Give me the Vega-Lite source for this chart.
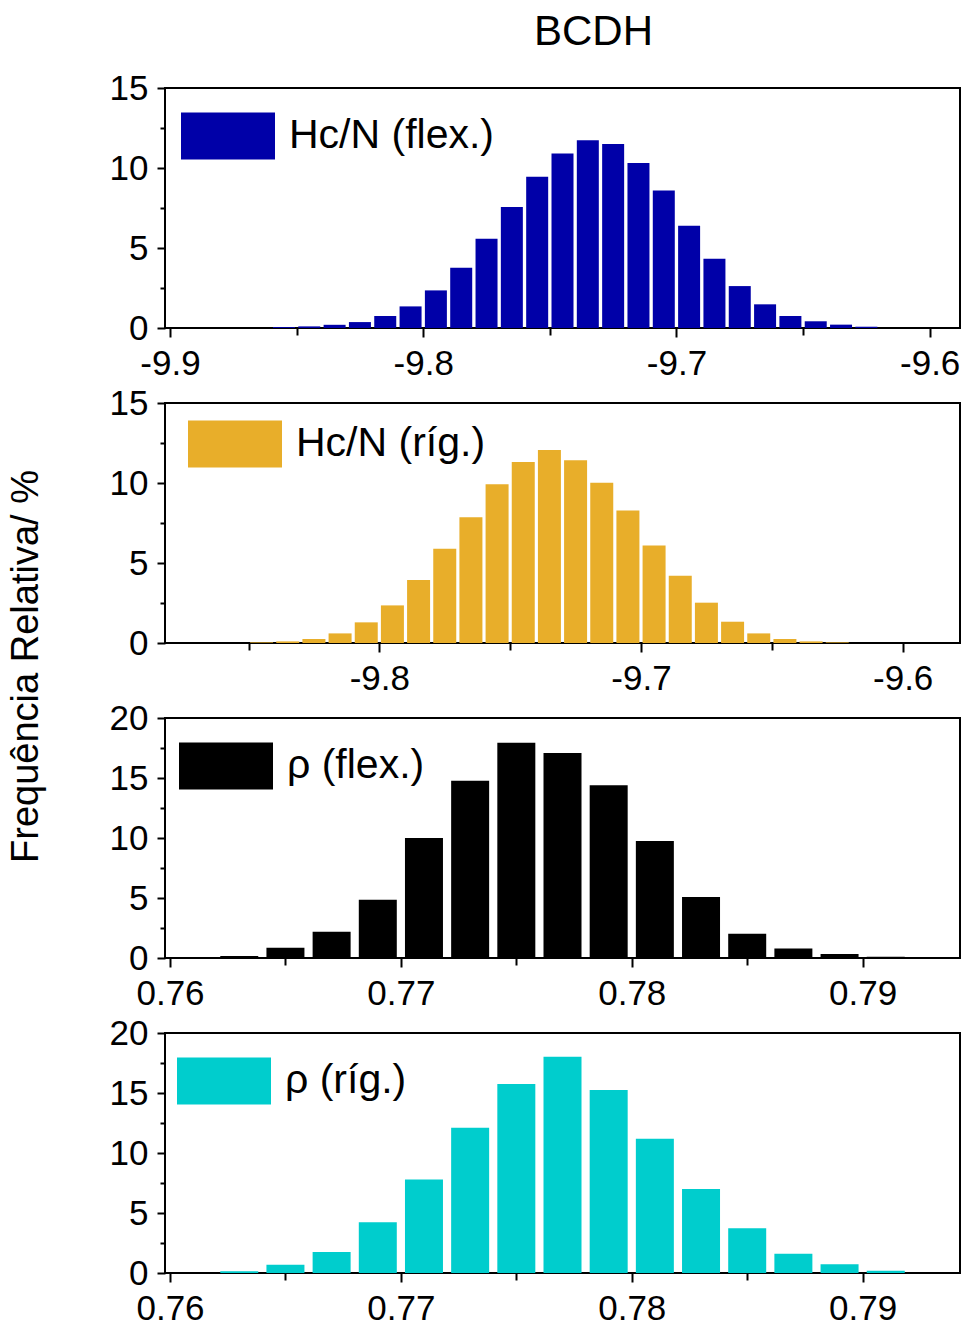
{
  "$schema": "https://vega.github.io/schema/vega-lite/v6.json",
  "padding": {"left": 5, "top": 11, "right": 0, "bottom": 0},
  "autosize": {"type": "pad"},
  "title": {"text": "BCDH", "fontSize": 42, "font": "Liberation Sans", "fontWeight": "normal", "color": "black", "anchor": "start", "frame": "group", "dx": 369, "offset": 16},
  "spacing": 75,
  "bounds": "flush",
  "resolve": {"scale": {"color": "independent", "x": "independent", "y": "independent"}},
  "config": {
    "font": "Liberation Sans",
    "view": {"stroke": "black", "strokeWidth": 2},
    "axis": {"labelFont": "Liberation Sans", "labelFontSize": 35, "labelColor": "black", "tickColor": "black", "tickWidth": 2, "domain": false, "grid": false, "labelPadding": 9, "labelOverlap": false, "labelFlush": false},
    "legend": {"labelFont": "Liberation Sans", "labelFontSize": 41, "labelColor": "black", "padding": 0, "labelLimit": 500, "symbolType": "M-1,-0.5H1V0.5H-1Z", "symbolSize": 8836, "symbolStrokeWidth": 0, "symbolOpacity": 1, "labelOffset": 14, "orient": "none"}
  },
  "vconcat": [
    {
      "width": 795, "height": 240,
      "data": {"values": [
        {"x": -9.855, "f": 0.06}, {"x": -9.845, "f": 0.1}, {"x": -9.835, "f": 0.2}, {"x": -9.825, "f": 0.37},
        {"x": -9.815, "f": 0.75}, {"x": -9.805, "f": 1.35}, {"x": -9.795, "f": 2.35}, {"x": -9.785, "f": 3.77},
        {"x": -9.775, "f": 5.58}, {"x": -9.765, "f": 7.57}, {"x": -9.755, "f": 9.45}, {"x": -9.745, "f": 10.9},
        {"x": -9.735, "f": 11.73}, {"x": -9.725, "f": 11.5}, {"x": -9.715, "f": 10.32}, {"x": -9.705, "f": 8.59},
        {"x": -9.695, "f": 6.39}, {"x": -9.685, "f": 4.33}, {"x": -9.675, "f": 2.62}, {"x": -9.665, "f": 1.48},
        {"x": -9.655, "f": 0.75}, {"x": -9.645, "f": 0.42}, {"x": -9.635, "f": 0.21}, {"x": -9.625, "f": 0.08}
      ]},
      "mark": {"type": "bar", "width": 22},
      "encoding": {
        "x": {"field": "x", "type": "quantitative", "scale": {"domain": [-9.9, -9.59], "nice": false, "zero": false},
          "axis": {"title": null, "values": [-9.9, -9.85, -9.8, -9.75, -9.7, -9.65, -9.6],
            "labelExpr": "abs(datum.value*10 - round(datum.value*10)) < 1e-6 ? replace(format(datum.value, '.1f'), '\u2212', '-') : ''",
            "tickSize": {"condition": {"test": "abs(datum.value*10 - round(datum.value*10)) < 1e-6", "value": 9}, "value": 7}}},
        "y": {"field": "f", "type": "quantitative", "scale": {"domain": [0, 15], "nice": false},
          "axis": {"title": null, "values": [0, 2.5, 5, 7.5, 10, 12.5, 15],
            "labelExpr": "datum.value % 5 == 0 ? format(datum.value, 'd') : ''",
            "tickSize": {"condition": {"test": "datum.value % 5 == 0", "value": 8}, "value": 5}}},
        "color": {"datum": "Hc/N (flex.)", "type": "nominal", "scale": {"domain": ["Hc/N (flex.)"], "range": ["#0000A8"]},
          "legend": {"title": null, "orient": "none", "legendX": 16, "legendY": 1}}
      }
    },
    {
      "width": 795, "height": 240,
      "data": {"values": [
        {"x": -9.845, "f": 0.04}, {"x": -9.835, "f": 0.1}, {"x": -9.825, "f": 0.25}, {"x": -9.815, "f": 0.6},
        {"x": -9.805, "f": 1.29}, {"x": -9.795, "f": 2.35}, {"x": -9.785, "f": 3.93}, {"x": -9.775, "f": 5.89},
        {"x": -9.765, "f": 7.86}, {"x": -9.755, "f": 9.92}, {"x": -9.745, "f": 11.32}, {"x": -9.735, "f": 12.07},
        {"x": -9.725, "f": 11.42}, {"x": -9.715, "f": 10.01}, {"x": -9.705, "f": 8.28}, {"x": -9.695, "f": 6.1},
        {"x": -9.685, "f": 4.2}, {"x": -9.675, "f": 2.52}, {"x": -9.665, "f": 1.33}, {"x": -9.655, "f": 0.6},
        {"x": -9.645, "f": 0.25}, {"x": -9.635, "f": 0.1}, {"x": -9.625, "f": 0.04}
      ]},
      "mark": {"type": "bar", "width": 23},
      "encoding": {
        "x": {"field": "x", "type": "quantitative", "scale": {"domain": [-9.88, -9.58], "nice": false, "zero": false},
          "axis": {"title": null, "values": [-9.85, -9.8, -9.75, -9.7, -9.65, -9.6],
            "labelExpr": "abs(datum.value*10 - round(datum.value*10)) < 1e-6 ? replace(format(datum.value, '.1f'), '\u2212', '-') : ''",
            "tickSize": {"condition": {"test": "abs(datum.value*10 - round(datum.value*10)) < 1e-6", "value": 9}, "value": 7}}},
        "y": {"field": "f", "type": "quantitative", "scale": {"domain": [0, 15], "nice": false},
          "axis": {"title": "Frequência Relativa/ %", "titleFont": "Liberation Sans", "titleFontSize": 38, "titleFontWeight": "normal", "titleColor": "black",
            "titleAngle": -90, "titleX": -139, "titleY": 263, "titleAlign": "center", "titleBaseline": "middle",
            "values": [0, 2.5, 5, 7.5, 10, 12.5, 15],
            "labelExpr": "datum.value % 5 == 0 ? format(datum.value, 'd') : ''",
            "tickSize": {"condition": {"test": "datum.value % 5 == 0", "value": 8}, "value": 5}}},
        "color": {"datum": "Hc/N (ríg.)", "type": "nominal", "scale": {"domain": ["Hc/N (ríg.)"], "range": ["#E8AE2A"]},
          "legend": {"title": null, "orient": "none", "legendX": 23, "legendY": -6}}
      }
    },
    {
      "width": 795, "height": 240,
      "data": {"values": [
        {"x": 0.761, "f": 0.04}, {"x": 0.763, "f": 0.17}, {"x": 0.765, "f": 0.86}, {"x": 0.767, "f": 2.19},
        {"x": 0.769, "f": 4.86}, {"x": 0.771, "f": 10.0}, {"x": 0.773, "f": 14.78}, {"x": 0.775, "f": 17.94},
        {"x": 0.777, "f": 17.08}, {"x": 0.779, "f": 14.39}, {"x": 0.781, "f": 9.75}, {"x": 0.783, "f": 5.08},
        {"x": 0.785, "f": 2.03}, {"x": 0.787, "f": 0.8}, {"x": 0.789, "f": 0.33}, {"x": 0.791, "f": 0.11}
      ]},
      "mark": {"type": "bar", "width": 38},
      "encoding": {
        "x": {"field": "x", "type": "quantitative", "scale": {"domain": [0.76, 0.794], "nice": false, "zero": false},
          "axis": {"title": null, "values": [0.76, 0.765, 0.77, 0.775, 0.78, 0.785, 0.79],
            "labelExpr": "abs(datum.value*100 - round(datum.value*100)) < 1e-6 ? format(datum.value, '.2f') : ''",
            "tickSize": {"condition": {"test": "abs(datum.value*100 - round(datum.value*100)) < 1e-6", "value": 9}, "value": 7}}},
        "y": {"field": "f", "type": "quantitative", "scale": {"domain": [0, 20], "nice": false},
          "axis": {"title": null, "values": [0, 2.5, 5, 7.5, 10, 12.5, 15, 17.5, 20],
            "labelExpr": "datum.value % 5 == 0 ? format(datum.value, 'd') : ''",
            "tickSize": {"condition": {"test": "datum.value % 5 == 0", "value": 8}, "value": 5}}},
        "color": {"datum": "ρ (flex.)", "type": "nominal", "scale": {"domain": ["ρ (flex.)"], "range": ["#000000"]},
          "legend": {"title": null, "orient": "none", "legendX": 14, "legendY": 1}}
      }
    },
    {
      "width": 795, "height": 240,
      "data": {"values": [
        {"x": 0.763, "f": 0.14}, {"x": 0.765, "f": 0.69}, {"x": 0.767, "f": 1.75},
        {"x": 0.769, "f": 4.22}, {"x": 0.771, "f": 7.8}, {"x": 0.773, "f": 12.11}, {"x": 0.775, "f": 15.75},
        {"x": 0.777, "f": 18.03}, {"x": 0.779, "f": 15.25}, {"x": 0.781, "f": 11.19}, {"x": 0.783, "f": 7.0},
        {"x": 0.785, "f": 3.72}, {"x": 0.787, "f": 1.61}, {"x": 0.789, "f": 0.72}, {"x": 0.791, "f": 0.19}
      ]},
      "mark": {"type": "bar", "width": 38},
      "encoding": {
        "x": {"field": "x", "type": "quantitative", "scale": {"domain": [0.76, 0.794], "nice": false, "zero": false},
          "axis": {"title": null, "values": [0.76, 0.765, 0.77, 0.775, 0.78, 0.785, 0.79],
            "labelExpr": "abs(datum.value*100 - round(datum.value*100)) < 1e-6 ? format(datum.value, '.2f') : ''",
            "tickSize": {"condition": {"test": "abs(datum.value*100 - round(datum.value*100)) < 1e-6", "value": 9}, "value": 7}}},
        "y": {"field": "f", "type": "quantitative", "scale": {"domain": [0, 20], "nice": false},
          "axis": {"title": null, "values": [0, 2.5, 5, 7.5, 10, 12.5, 15, 17.5, 20],
            "labelExpr": "datum.value % 5 == 0 ? format(datum.value, 'd') : ''",
            "tickSize": {"condition": {"test": "datum.value % 5 == 0", "value": 8}, "value": 5}}},
        "color": {"datum": "ρ (ríg.)", "type": "nominal", "scale": {"domain": ["ρ (ríg.)"], "range": ["#00CDCD"]},
          "legend": {"title": null, "orient": "none", "legendX": 12, "legendY": 1}}
      }
    }
  ]
}
